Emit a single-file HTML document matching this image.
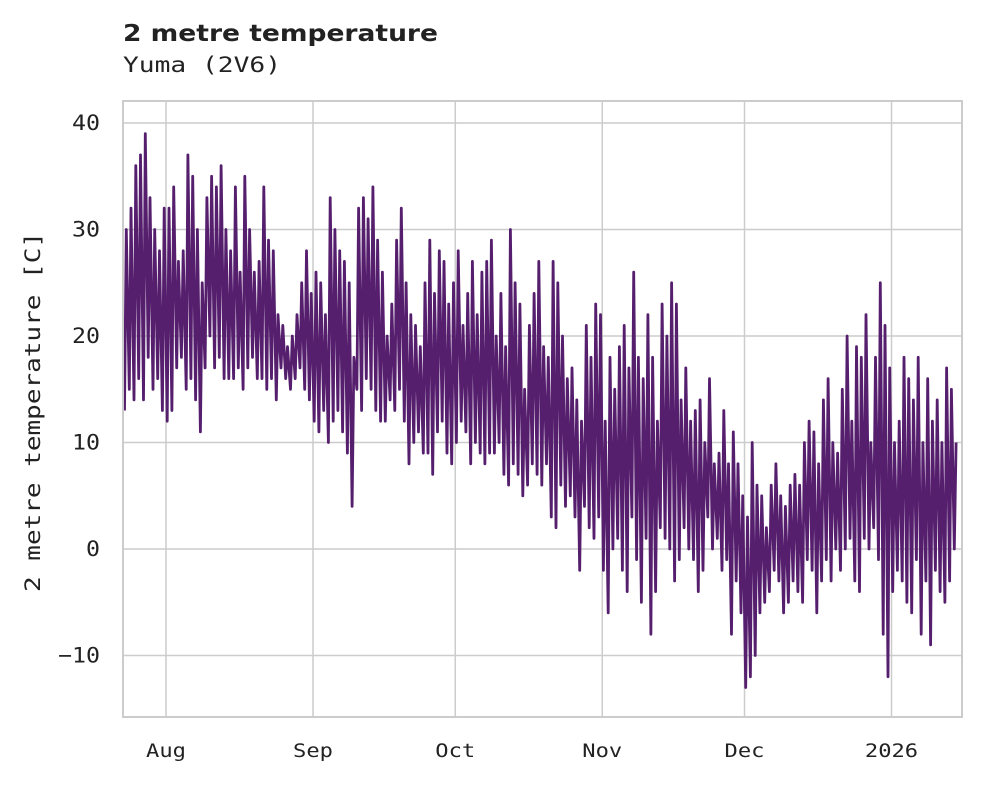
<!DOCTYPE html>
<html><head><meta charset="utf-8"><style>
body{margin:0;background:#fff;}
svg text{font-family:"DejaVu Sans Mono","Liberation Mono",monospace;fill:#222;}
</style></head><body>
<svg id="chart" width="981" height="782" viewBox="0 0 981 782" xmlns="http://www.w3.org/2000/svg">
<text x="123" y="41" textLength="315" lengthAdjust="spacingAndGlyphs" style="font-family:'DejaVu Sans','Liberation Sans',sans-serif;font-weight:bold;font-size:23px">2 metre temperature</text>
<text x="123" y="72" textLength="158" lengthAdjust="spacingAndGlyphs" style="font-size:21px">Yuma (2V6)</text>
<g id="grid"></g>
<g id="series"></g>
<rect x="123" y="101" width="839" height="616" fill="none" stroke="#ccc" stroke-width="2"/>
<text transform="translate(40,412) rotate(-90)" text-anchor="middle" textLength="360" lengthAdjust="spacingAndGlyphs" style="font-size:21px">2 metre temperature [C]</text>
</svg>
<script>
const yTicks=[40,30,20,10,0,-10];
const yTickLabels=["40","30","20","10","0","\u221210"];
const xTickDates=["2025-08-01","2025-09-01","2025-10-01","2025-11-01","2025-12-01","2026-01-01"];
const xTickLabels=["Aug","Sep","Oct","Nov","Dec","2026"];
const startDate="2025-07-23";
const dailyMax=[30,32,36,37,39,33,30,28,32,
32,34,27,28,37,35,30,25,33,35,34,36,30,28,34,26,35,30,26,27,34,29,28,22,21,19,20,22,25,28,24,
26,25,22,33,30,28,27,25,18,32,33,31,34,29,26,20,23,29,32,25,22,21,19,25,29,24,28,27,23,25,
28,21,24,27,22,26,27,29,20,24,19,30,25,23,15,21,24,27,19,18,27,25,20,16,17,14,12,21,18,23,22,
12,18,15,19,21,17,26,18,16,22,18,12,23,20,25,23,14,17,12,13,14,10,16,8,9,13,8,11,8,5,
3,10,6,5,2,6,8,5,4,6,7,6,10,12,11,8,14,16,10,9,15,20,12,19,18,22,10,18,25,21,17,
10,12,18,16,14,18,10,16,12,14,10,17,15,10];
const dailyMin=[13,15,14,16,14,18,15,16,13,
12,13,17,18,15,16,14,11,17,20,17,18,16,16,16,17,15,17,18,16,16,15,16,14,17,16,15,16,17,15,14,
12,11,13,10,12,13,11,9,4,15,13,16,15,13,12,12,14,13,15,12,8,10,11,9,9,7,11,12,9,8,
10,12,11,8,10,9,8,9,9,10,7,6,8,7,5,6,8,7,6,8,3,2,6,4,5,3,-2,4,2,1,3,
-2,-6,0,1,-2,-4,3,-1,-5,1,-8,-4,2,1,0,-3,-1,2,0,-1,-4,-2,3,0,1,-2,-1,-8,-3,-6,
-13,-12,-10,-6,-5,-4,-2,-3,-6,-5,-3,-4,-5,-1,-2,-6,-3,-1,-3,0,-2,0,1,-3,-4,1,0,2,-1,-8,-12,
-4,-2,-3,-5,-6,-1,-8,-3,-9,-2,-4,-5,-3,0];
const NS="http://www.w3.org/2000/svg";
const day=86400000;
const t0=Date.parse("2025-08-01"), x0=166, pxPerDay=147/31;
function xScale(ms){return x0+(ms-t0)/day*pxPerDay;}
function yScale(v){return 549-v*10.65;}
const grid=document.getElementById('grid'), svg=document.getElementById('chart'), series=document.getElementById('series');
yTicks.forEach((v,i)=>{
 const y=yScale(v);
 const l=document.createElementNS(NS,'line');
 l.setAttribute('x1',123);l.setAttribute('x2',962);l.setAttribute('y1',y);l.setAttribute('y2',y);
 l.setAttribute('stroke','#ccc');l.setAttribute('stroke-width','1.5');
 
 
 grid.appendChild(l);
 const t=document.createElementNS(NS,'text');
 t.setAttribute('x',100);t.setAttribute('y',y+7);t.setAttribute('text-anchor','end');t.setAttribute('font-size','21');
 t.setAttribute('textLength',yTickLabels[i].length*14);t.setAttribute('lengthAdjust','spacingAndGlyphs');
 t.textContent=yTickLabels[i];
 
 
 svg.appendChild(t);
});
xTickDates.forEach((d,i)=>{
 const x=xScale(Date.parse(d));
 const l=document.createElementNS(NS,'line');
 l.setAttribute('x1',x);l.setAttribute('x2',x);l.setAttribute('y1',101);l.setAttribute('y2',717);
 l.setAttribute('stroke','#ccc');l.setAttribute('stroke-width','1.5');
 
 
 grid.appendChild(l);
 const t=document.createElementNS(NS,'text');
 t.setAttribute('x',x);t.setAttribute('y',757);t.setAttribute('text-anchor','middle');t.setAttribute('font-size','19');
 t.setAttribute('textLength',xTickLabels[i].length*13.3);t.setAttribute('lengthAdjust','spacingAndGlyphs');
 t.textContent=xTickLabels[i];
 
 
 svg.appendChild(t);
});
const s0=Date.parse(startDate);
let pts=[];
for(let i=0;i<dailyMax.length;i++){
 const base=s0+i*day;
 pts.push(xScale(base+6*3600000).toFixed(1)+','+yScale(dailyMin[i]).toFixed(1));
 pts.push(xScale(base+15*3600000).toFixed(1)+','+yScale(dailyMax[i]).toFixed(1));
}
const pl=document.createElementNS(NS,'polyline');
pl.setAttribute('points',pts.join(' '));
pl.setAttribute('fill','none');pl.setAttribute('stroke','#561f6e');pl.setAttribute('stroke-width','2.8');pl.setAttribute('stroke-linejoin','round');


series.appendChild(pl);
</script>
</body></html>
